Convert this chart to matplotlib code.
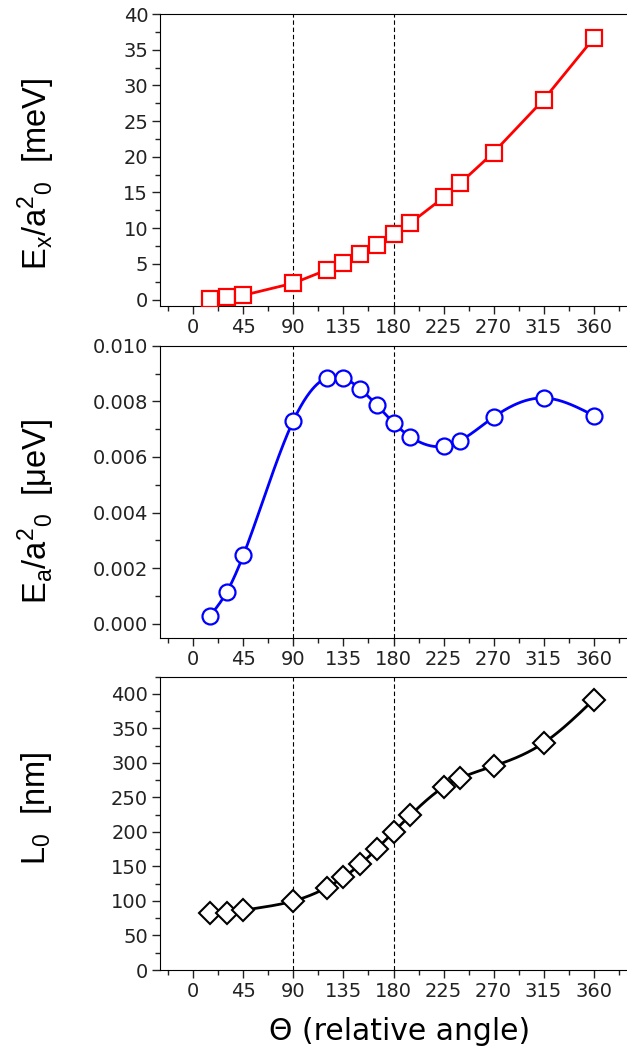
import numpy as np
import matplotlib
matplotlib.use("Agg")
import matplotlib.pyplot as plt
from matplotlib.ticker import MultipleLocator, FormatStrFormatter

plt.rcParams['font.family'] = ['DejaVu Sans']
plt.rcParams['mathtext.fontset'] = 'custom'
plt.rcParams['mathtext.rm'] = 'Liberation Sans'
plt.rcParams['mathtext.it'] = 'Liberation Sans'
plt.rcParams['mathtext.default'] = 'regular'

# data
theta = [15, 30, 45, 90, 120, 135, 150, 165, 180, 195, 225, 240, 270, 315, 360]
ex = [0.1, 0.3, 0.6, 2.3, 4.15, 5.1, 6.35, 7.7, 9.15, 10.7, 14.3, 16.3, 20.6, 28.0, 36.6]
ea = [0.00029, 0.00114, 0.00247, 0.00731, 0.00885, 0.00885, 0.00844, 0.00787,
      0.00723, 0.00673, 0.00638, 0.00659, 0.00743, 0.00812, 0.00749]
l0 = [83, 83, 86.5, 100, 119.5, 134.4, 153, 175.5, 200, 224, 265, 278, 295.5, 329, 391.7]
xticks = [0, 45, 90, 135, 180, 225, 270, 315, 360]


def spline(x, y, n=500):
    # natural cubic spline through the points, for the connecting line only
    x = np.asarray(x, float)
    y = np.asarray(y, float)
    h = np.diff(x)
    m = len(x)
    A = np.zeros((m, m))
    b = np.zeros(m)
    A[0, 0] = A[-1, -1] = 1
    for i in range(1, m - 1):
        A[i, i - 1] = h[i - 1]
        A[i, i] = 2 * (h[i - 1] + h[i])
        A[i, i + 1] = h[i]
        b[i] = 6 * ((y[i + 1] - y[i]) / h[i] - (y[i] - y[i - 1]) / h[i - 1])
    M = np.linalg.solve(A, b)
    xs = np.linspace(x[0], x[-1], n)
    k = np.clip(np.searchsorted(x, xs) - 1, 0, m - 2)
    t1 = x[k + 1] - xs
    t0 = xs - x[k]
    hk = h[k]
    ys = (M[k] * t1 ** 3 / (6 * hk) + M[k + 1] * t0 ** 3 / (6 * hk)
          + (y[k] / hk - M[k] * hk / 6) * t1 + (y[k + 1] / hk - M[k + 1] * hk / 6) * t0)
    return xs, ys


fig = plt.figure(figsize=(6.27, 10.55), dpi=100)
W, H = 627.0, 1055.0


def make_axes(top, bottom):
    ax = fig.add_axes([160 / W, 1 - bottom / H, 1 - 160 / W, (bottom - top) / H])
    ax.spines['right'].set_visible(False)
    ax.set_xlim(-30, 390)
    ax.set_xticks(xticks)
    ax.xaxis.set_minor_locator(MultipleLocator(22.5))
    ax.tick_params(which='both', direction='out', top=False, right=False,
                   labelsize=14, colors='#222222', width=1)
    ax.tick_params(which='major', length=6, pad=2.5)
    ax.tick_params(which='minor', length=3.5)
    for x in (90, 180):
        ax.axvline(x, color='black', lw=0.8, ls=(0, (4, 2.5)), zorder=1)
    return ax


ax1 = make_axes(14, 306)
ax1.plot(theta, ex, color='red', lw=2, marker='s', ms=12, mfc='white',
         mec='red', mew=1.6, zorder=3)
ax1.set_ylim(-0.9, 40)
ax1.yaxis.set_major_locator(MultipleLocator(5))
ax1.yaxis.set_minor_locator(MultipleLocator(2.5))

ax2 = make_axes(345.7, 637.7)
xs, ys = spline(theta, ea)
ax2.plot(xs, ys, color='blue', lw=2, zorder=2)
ax2.plot(theta, ea, ls='none', marker='o', ms=11.5, mfc='white',
         mec='blue', mew=1.6, zorder=3)
ax2.set_ylim(-0.0005, 0.010)
ax2.yaxis.set_major_locator(MultipleLocator(0.002))
ax2.yaxis.set_minor_locator(MultipleLocator(0.001))
ax2.yaxis.set_major_formatter(FormatStrFormatter('%.3f'))

ax3 = make_axes(676.7, 970)
xs, ys = spline(theta, l0)
ax3.plot(xs, ys, color='black', lw=2, zorder=2)
ax3.plot(theta, l0, ls='none', marker='D', ms=11, mfc='white',
         mec='black', mew=1.5, zorder=3)
ax3.set_ylim(0, 425)
ax3.yaxis.set_major_locator(MultipleLocator(50))
ax3.yaxis.set_minor_locator(MultipleLocator(25))

lab = ['Liberation Sans', 'DejaVu Sans']
fig.text(36 / W, 1 - 174 / H, r'E$_x$/a$^2$$_0$  [meV]', rotation=90,
         ha='center', va='center', fontsize=23.5, family=lab)
fig.text(36 / W, 1 - 511 / H, r'E$_a$/a$^2$$_0$  [μeV]', rotation=90,
         ha='center', va='center', fontsize=23.5, family=lab)
fig.text(36 / W, 1 - 808 / H, r'L$_0$  [nm]', rotation=90,
         ha='center', va='center', fontsize=23.5, family=lab)
fig.text(400 / W, 1 - 1032 / H, 'Θ (relative angle)', ha='center', va='center',
         fontsize=21.5)

fig.savefig('out.png', dpi=100)
